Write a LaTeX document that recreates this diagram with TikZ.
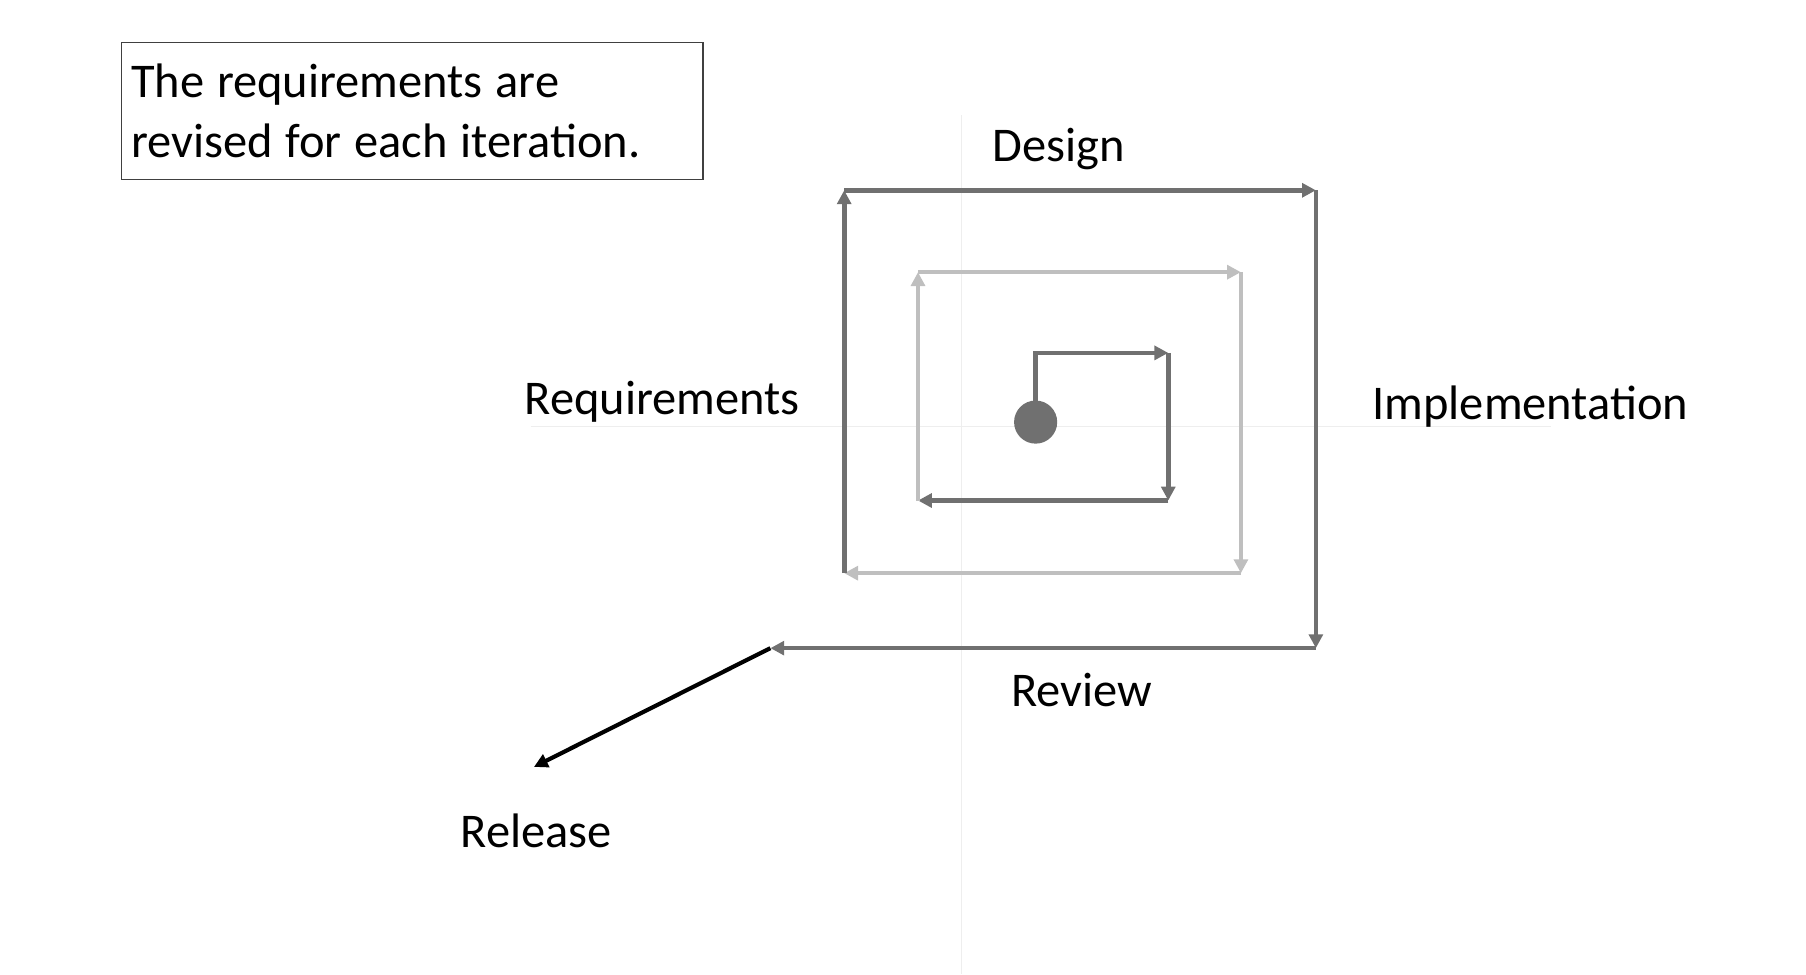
\documentclass[tikz,border=0pt]{standalone}
\usepackage{fontspec}
\setmainfont{Carlito}
\usetikzlibrary{arrows.meta}
\definecolor{spiraldark}{RGB}{112,112,112}
\definecolor{spirallight}{RGB}{191,191,191}
\definecolor{axisgray}{RGB}{238,238,238}
\begin{document}
\begin{tikzpicture}[x=0.5pt, y=-0.5pt,
		darkline/.style={draw=spiraldark, line width=2pt, -{Triangle[length=6pt, width=6pt]}},
		lightline/.style={draw=spirallight, line width=2pt, -{Triangle[length=6pt, width=6pt]}},
		phase/.style={anchor=base, font=\fontsize{21}{26}\selectfont}]
		\useasboundingbox (0,0) rectangle (1566,844.6);
		\draw[axisgray, line width=0.5pt] (460,370) -- (1345,370);
		\draw[axisgray, line width=0.5pt] (834,100) -- (834,844.6);
		\coordinate (i0) at (898,306);
		\coordinate (i1) at (1013,306);
		\coordinate (i2) at (1013,434);
		\coordinate (i3) at (796,434);
		\coordinate (m1) at (796,236);
		\coordinate (m2) at (1076,236);
		\coordinate (m3) at (1076,497);
		\coordinate (m4) at (732,497);
		\coordinate (o1) at (732,165);
		\coordinate (o2) at (1141,165);
		\coordinate (o3) at (1141,562);
		\coordinate (o4) at (668,562);
		\coordinate (rel) at (463,665);
		\draw[darkline] (898,366) -- (i0) -- (i1);
		\draw[darkline] (i1) -- (i2);
		\draw[darkline] (i2) -- (i3);
		\draw[lightline] (i3) -- (m1);
		\draw[lightline] (m1) -- (m2);
		\draw[lightline] (m2) -- (m3);
		\draw[lightline] (m3) -- (m4);
		\draw[darkline] (m4) -- (o1);
		\draw[darkline] (o1) -- (o2);
		\draw[darkline] (o2) -- (o3);
		\draw[darkline] (o3) -- (o4);
		\draw[black, line width=1.8pt, -{Triangle[length=6pt, width=6pt]}] (o4) -- (rel);
		\node[circle, fill=spiraldark, inner sep=0pt, minimum size=18.7pt] (start) at (898,366) {};
		\node[phase] (design) at (918,140) {Design};
		\node[phase] (requirements) at (574,359) {Requirements};
		\node[phase] (implementation) at (1327,364) {Implementation};
		\node[phase] (review) at (938,613) {Review};
		\node[phase] (release) at (465,735) {Release};
		\node[draw=black!75, line width=0.6pt, anchor=north west, text width=244pt, minimum height=59.5pt,
			inner xsep=4pt, align=left, font=\fontsize{21}{26}\selectfont] (note) at (105,36)
			{\spaceskip=5.6pt\relax The requirements are\\revised for each iteration.};
	\end{tikzpicture}
\end{document}
